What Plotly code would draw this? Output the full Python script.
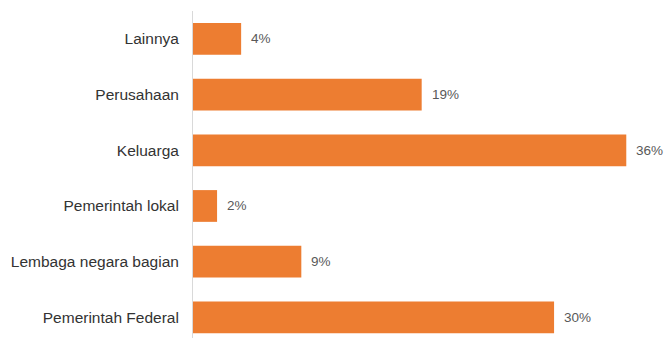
import plotly.graph_objects as go

# Categories listed bottom-to-top on the y axis
categories = [
    "Pemerintah Federal",
    "Lembaga negara bagian",
    "Pemerintah lokal",
    "Keluarga",
    "Perusahaan",
    "Lainnya",
]
values = [30, 9, 2, 36, 19, 4]
value_labels = ["30%", "9%", "2%", "36%", "19%", "4%"]

bar_color = "#ED7D31"

fig = go.Figure()
fig.add_trace(
    go.Bar(
        x=values,
        y=categories,
        orientation="h",
        marker=dict(color=bar_color, line=dict(width=0)),
        hoverinfo="skip",
    )
)

# Percentage labels placed just past the end of each bar
for cat, val, lab in zip(categories, values, value_labels):
    fig.add_annotation(
        x=val,
        y=cat,
        text=lab,
        showarrow=False,
        xanchor="left",
        yanchor="middle",
        xshift=8,
        font=dict(family="Liberation Sans, Arial, sans-serif", size=13.5, color="#595959"),
    )

fig.update_layout(
    width=666,
    height=338,
    margin=dict(l=193, r=0, t=11, b=0),
    paper_bgcolor="white",
    plot_bgcolor="white",
    bargap=0.43,
    showlegend=False,
    font=dict(family="Liberation Sans, Arial, sans-serif"),
)
fig.update_xaxes(
    range=[0, 39.3],
    showgrid=False,
    zeroline=False,
    showticklabels=False,
    showline=False,
    fixedrange=True,
)
fig.update_yaxes(
    type="category",
    categoryorder="array",
    categoryarray=categories,
    range=[-0.37, 5.5],
    showgrid=False,
    zeroline=False,
    showline=True,
    linecolor="#D9D9D9",
    linewidth=1,
    ticks="",
    ticklabelstandoff=10,
    tickfont=dict(family="Liberation Sans, Arial, sans-serif", size=15.5, color="#333333"),
    fixedrange=True,
)

fig.write_html("out.html")
